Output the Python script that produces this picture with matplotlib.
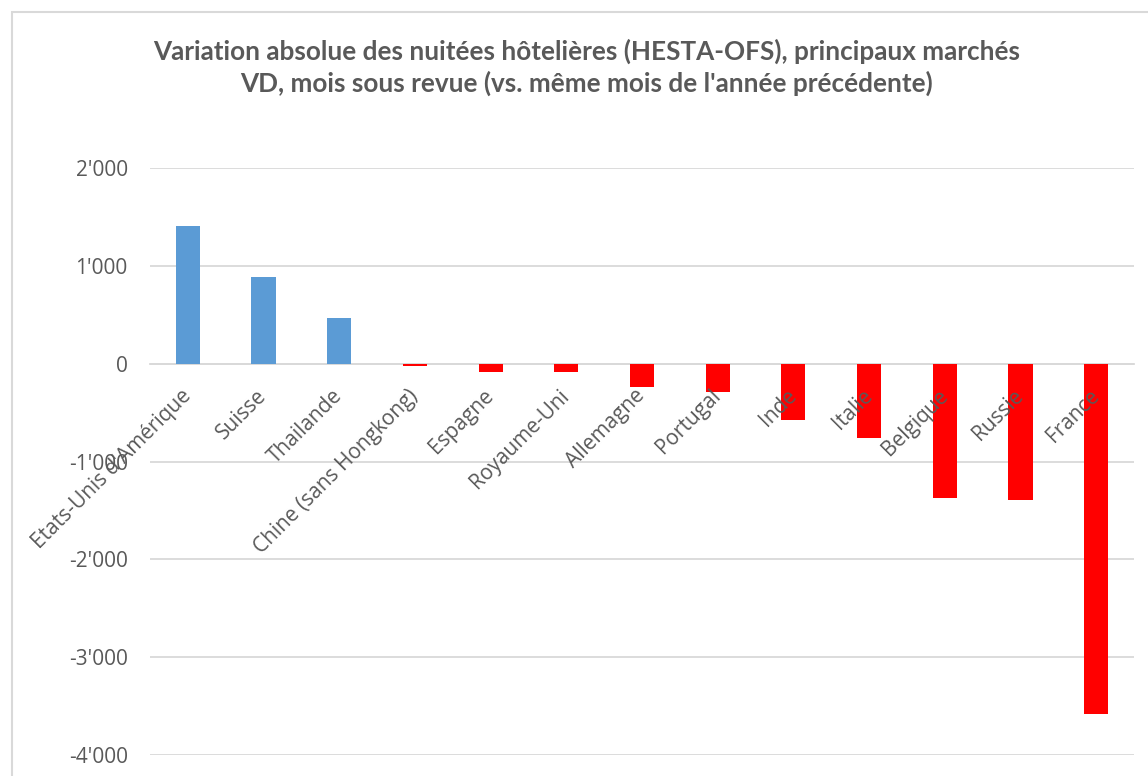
import numpy as np
import matplotlib.pyplot as plt
from matplotlib.ticker import FuncFormatter, MultipleLocator
from matplotlib.patches import Rectangle

# Daten (Variation absolue des nuitées)
pays = ["Etats-Unis d'Amérique", "Suisse", "Thailande", "Chine (sans Hongkong)",
        "Espagne", "Royaume-Uni", "Allemagne", "Portugal", "Inde", "Italie",
        "Belgique", "Russie", "France"]
variation = [1410, 886, 462, -20, -85, -85, -242, -293, -573, -757, -1373, -1398, -3580]

titre = ("Variation absolue des nuitées hôtelières (HESTA-OFS), principaux marchés\n"
         "VD, mois sous revue (vs. même mois de l'année précédente)")

gris_texte = "#595959"
gris_grille = "#d9d9d9"
couleurs = ["#5b9bd5" if v > 0 else "#ff0000" for v in variation]

plt.rcParams["font.family"] = ["Open Sans", "DejaVu Sans"]

fig = plt.figure(figsize=(11.48, 7.76), dpi=100)
ax = fig.add_axes([150 / 1148, 1 - 755 / 776, (1134 - 150) / 1148, (755 - 168) / 776])

x = np.arange(len(pays))
ax.bar(x, variation, width=0.32, color=couleurs, zorder=1)

ax.set_xlim(-0.5, len(pays) - 0.5)
ax.set_ylim(-4000, 2000)
ax.yaxis.set_major_locator(MultipleLocator(1000))
ax.yaxis.set_major_formatter(FuncFormatter(lambda v, p: f"{int(v):,}".replace(",", "'")))

# lignes de grille sous les barres, étiquettes par-dessus
for yv in ax.get_yticks():
    if -4000 <= yv <= 2000:
        ax.axhline(yv, color=gris_grille, lw=1.3, zorder=0)

for s in ["top", "right", "left"]:
    ax.spines[s].set_visible(False)
ax.spines["bottom"].set_position(("data", 0))
ax.spines["bottom"].set_color(gris_grille)
ax.spines["bottom"].set_linewidth(1.3)
ax.spines["bottom"].set_zorder(0.5)

ax.set_xticks(x)
ax.set_xticklabels(pays, rotation=45, ha="right", va="center", rotation_mode="anchor")
ax.tick_params(axis="x", length=0, pad=21, labelsize=15, labelcolor=gris_texte)
ax.tick_params(axis="y", length=0, pad=16, labelsize=15, labelcolor=gris_texte)

fig.text(0.511, 1 - 67 / 776, titre, ha="center", va="center", fontsize=18.8,
         fontweight="bold", color=gris_texte, linespacing=1.3,
         family=["Lato", "DejaVu Sans"])

# cadre du graphique
fig.add_artist(Rectangle((12 / 1148, -0.1), 2, 1.1 - 12 / 776, transform=fig.transFigure,
                         fill=False, edgecolor=gris_grille, lw=1.5))

fig.savefig("out.png", dpi=100)
